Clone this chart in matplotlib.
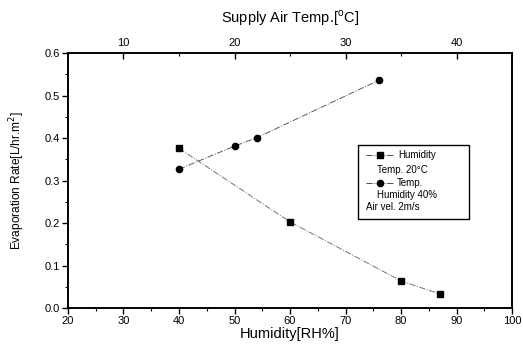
import matplotlib
matplotlib.use("Agg")
import matplotlib.pyplot as plt
from matplotlib.lines import Line2D
from matplotlib.patches import Rectangle
from matplotlib.ticker import MultipleLocator

plt.rcParams['font.family'] = ['Liberation Sans', 'DejaVu Sans']

# humidity series (bottom axis)
humidity = [40, 60, 80, 87]
evap_humidity = [0.376, 0.203, 0.064, 0.033]

# temperature series (top axis)
temp = [15, 20, 22, 33]
evap_temp = [0.327, 0.381, 0.401, 0.536]

fig = plt.figure(figsize=(5.23, 3.45), dpi=100)
ax = fig.add_axes([0.130, 0.107, 0.849, 0.739])
ax2 = ax.twiny()

line_kw = dict(linestyle='-.', linewidth=0.7, markersize=4.5,
               markerfacecolor='black', markeredgecolor='black')
ax.plot(humidity, evap_humidity, color='0.45', marker='s', **line_kw)
ax2.plot(temp, evap_temp, color='0.35', marker='o', **line_kw)

ax.set_xlim(20, 100)
ax.set_ylim(0.0, 0.6)
ax2.set_xlim(5, 45)

ax.xaxis.set_major_locator(MultipleLocator(10))
ax.xaxis.set_minor_locator(MultipleLocator(5))
ax.yaxis.set_major_locator(MultipleLocator(0.1))
ax.yaxis.set_minor_locator(MultipleLocator(0.05))
ax2.xaxis.set_major_locator(MultipleLocator(10))
ax2.xaxis.set_minor_locator(MultipleLocator(5))
ax.yaxis.set_major_formatter(plt.FormatStrFormatter('%.1f'))

ax.tick_params(axis='both', which='major', direction='out', length=4, width=1, labelsize=8, pad=1.5)
ax.tick_params(axis='both', which='minor', direction='out', length=2, width=0.8)
ax.tick_params(right=False, which='both')
ax2.tick_params(axis='x', which='major', direction='in', length=4, width=1, labelsize=8, pad=4)
ax2.tick_params(axis='x', which='minor', direction='in', length=2, width=0.8)

for a in (ax, ax2):
    for s in a.spines.values():
        s.set_linewidth(1.2)

ax.set_xlabel('Humidity[RH%]', fontsize=10.5, labelpad=1)
ax.set_ylabel('Evaporation Rate[L/hr.m$^2$]', fontsize=8.6, labelpad=13)
ax2.set_xlabel('Supply Air Temp.[$^\\mathregular{o}$C]', fontsize=10.5, labelpad=11)

# legend box drawn by hand so the condition notes sit under the handles
tr = ax.transAxes
ax.add_patch(Rectangle((0.653, 0.349), 0.250, 0.290, transform=tr, fill=True,
                       facecolor='white', edgecolor='black', linewidth=1.0, zorder=5))
ax.add_line(Line2D([0.671, 0.732], [0.600, 0.600], transform=tr, color='0.3', linestyle='-.',
                   linewidth=0.7, zorder=6))
ax.add_line(Line2D([0.703], [0.600], transform=tr, marker='s', markersize=4.5, color='black', zorder=6))
ax.add_line(Line2D([0.671, 0.732], [0.490, 0.490], transform=tr, color='0.3', linestyle='-.',
                   linewidth=0.7, zorder=6))
ax.add_line(Line2D([0.703], [0.490], transform=tr, marker='o', markersize=4.5, color='black', zorder=6))
txt_kw = dict(transform=tr, fontsize=7, va='center', ha='left', zorder=6)
ax.text(0.743, 0.600, 'Humidity', **txt_kw)
ax.text(0.696, 0.541, 'Temp. 20\u00b0C', **txt_kw)
ax.text(0.741, 0.490, 'Temp.', **txt_kw)
ax.text(0.696, 0.444, 'Humidity 40%', **txt_kw)
ax.text(0.671, 0.396, 'Air vel. 2m/s', **txt_kw)

fig.savefig('out.png', dpi=100)
